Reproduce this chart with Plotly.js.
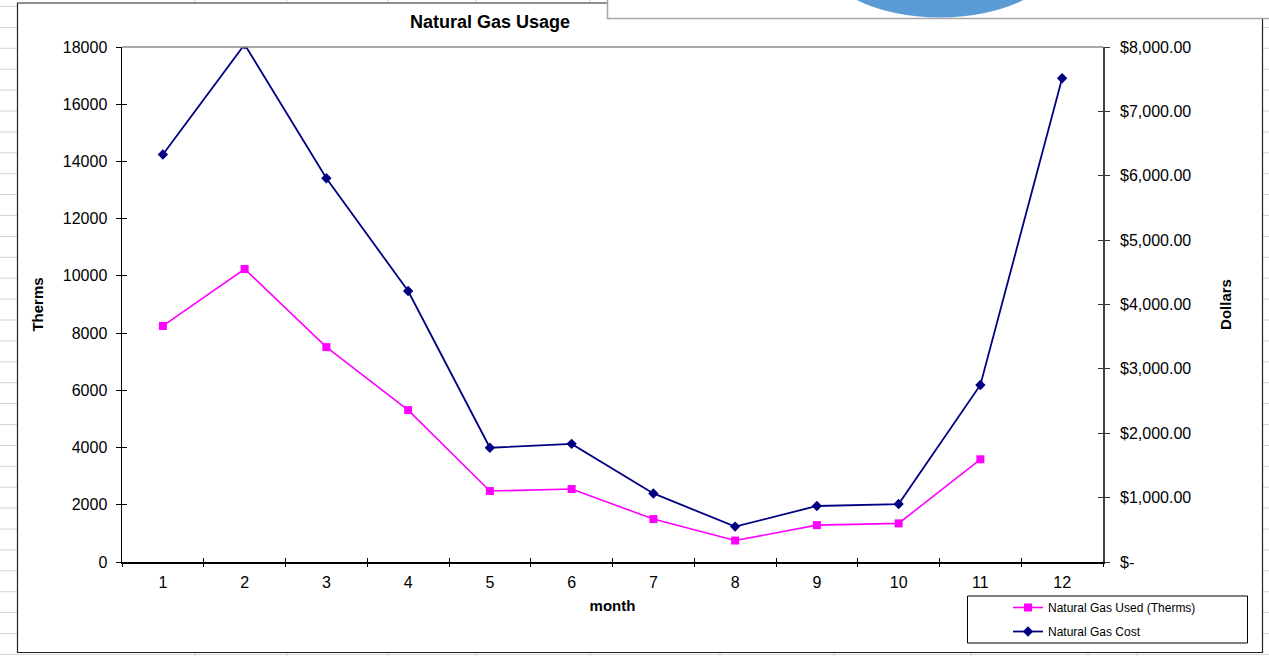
<!DOCTYPE html>
<html>
<head>
<meta charset="utf-8">
<script src="https://cdn.plot.ly/plotly-3.0.1.min.js"></script>
<style>
  html, body { margin: 0; padding: 0; background: #ffffff; overflow: hidden; }
  #chart { width: 1269px; height: 656px; }
</style>
</head>
<body>
<div id="chart"></div>
<script>
// ---- data ----
const months = [1, 2, 3, 4, 5, 6, 7, 8, 9, 10, 11, 12];
const monthLabels = ["1", "2", "3", "4", "5", "6", "7", "8", "9", "10", "11", "12"];
const thermsUsed = [8250, 10240, 7510, 5310, 2480, 2550, 1500, 750, 1290, 1350, 3590, null];
const gasCost = [6330, 8040, 5960, 4210, 1775, 1835, 1065, 550, 870, 900, 2750, 7515];
const thermTicks = [0, 2000, 4000, 6000, 8000, 10000, 12000, 14000, 16000, 18000];
const thermTickText = ["0", "2000", "4000", "6000", "8000", "10000", "12000", "14000", "16000", "18000"];
const dollarTickVals = [0, 1000, 2000, 3000, 4000, 5000, 6000, 7000, 8000];
const dollarTickText = ["$-", "$1,000.00", "$2,000.00", "$3,000.00", "$4,000.00",
                        "$5,000.00", "$6,000.00", "$7,000.00", "$8,000.00"];
const seriesNames = ["Natural Gas Used (Therms)", "Natural Gas Cost"];

// ---- geometry helpers (pixel -> paper) ----
const W = 1269, H = 656;
const PL = 122, PR = 1103, PT = 47, PB = 562;
const PW = PR - PL, PH = PB - PT;
const px = p => (p - PL) / PW;
const py = p => (PB - p) / PH;
const FONT = "Arial, 'Liberation Sans', sans-serif";

const catBounds = months.map(m => m - 0.5).concat([months[months.length - 1] + 0.5]);

const traces = [
  {
    x: months, y: thermsUsed, name: seriesNames[0], type: "scatter", mode: "lines+markers",
    line: { color: "#FF00FF", width: 1.6 },
    marker: { symbol: "square", size: 8, color: "#FF00FF" },
    xaxis: "x", yaxis: "y", legendgroup: "a", connectgaps: false
  },
  {
    x: months, y: gasCost, name: seriesNames[1], type: "scatter", mode: "lines+markers",
    line: { color: "#000080", width: 1.8 },
    marker: { symbol: "diamond", size: 8, color: "#000080" },
    xaxis: "x", yaxis: "y2", legendgroup: "b"
  },
  // empty helper traces so that the overlay tick axes are drawn
  { x: [], y: [], xaxis: "x2", yaxis: "y", showlegend: false, hoverinfo: "skip" },
  { x: [], y: [], xaxis: "x3", yaxis: "y", showlegend: false, hoverinfo: "skip" },
  { x: [], y: [], xaxis: "x", yaxis: "y3", showlegend: false, hoverinfo: "skip" },
  { x: [], y: [], xaxis: "x", yaxis: "y4", showlegend: false, hoverinfo: "skip" }
];

// spreadsheet grid behind the chart object
const shapes = [];
for (let k = -1; k < 33; k++) {
  const yy = 6.5 + k * 20.9;
  shapes.push({ type: "line", xref: "paper", yref: "paper", layer: "below",
    x0: px(0), x1: px(W), y0: py(yy), y1: py(yy), line: { color: "#d4d4d4", width: 1 } });
}
[195, 287, 388, 476, 590, 720, 834, 971, 1088, 1137].forEach(xx => {
  shapes.push({ type: "line", xref: "paper", yref: "paper", layer: "below",
    x0: px(xx), x1: px(xx), y0: py(0), y1: py(H), line: { color: "#d4d4d4", width: 1 } });
});
// chart object
shapes.push({ type: "rect", xref: "paper", yref: "paper", layer: "below",
  x0: px(17.5), x1: px(1262.5), y0: py(3), y1: py(652.5),
  fillcolor: "#ffffff", line: { color: "#222222", width: 1.2 } });
// plot area top border (grey)
shapes.push({ type: "line", xref: "paper", yref: "paper", layer: "above",
  x0: 0, x1: 1, y0: 1, y1: 1, line: { color: "#8c8c8c", width: 1.5 } });
// legend frame
shapes.push({ type: "rect", xref: "paper", yref: "paper", layer: "above",
  x0: px(967.5), x1: px(1247.5), y0: py(596), y1: py(643),
  fillcolor: "rgba(0,0,0,0)", line: { color: "#000000", width: 1 } });
// overlapping object at the top right (white frame + blue ellipse)
shapes.push({ type: "rect", xref: "paper", yref: "paper", layer: "above",
  x0: px(607.5), x1: px(1300), y0: py(-5), y1: py(18.5),
  fillcolor: "#ffffff", line: { color: "#a6a6a6", width: 1.5 } });
shapes.push({ type: "circle", xref: "paper", yref: "paper", layer: "above",
  x0: px(820), x1: px(1060), y0: py(-107), y1: py(17.5),
  fillcolor: "#5B9BD5", line: { width: 0 } });

const layout = {
  width: W, height: H,
  margin: { l: PL, r: W - PR, t: PT, b: H - PB, pad: 0, autoexpand: false },
  paper_bgcolor: "#ffffff",
  plot_bgcolor: "rgba(0,0,0,0)",
  font: { family: FONT, color: "#000000", size: 16 },
  showlegend: true,
  title: {
    text: "<b>Natural Gas Usage</b>",
    font: { family: FONT, size: 18, color: "#000000" },
    xref: "container", yref: "container",
    x: 490 / W, xanchor: "center", y: 1 - 22 / H, yanchor: "middle"
  },
  xaxis: {
    range: [0.5, 12.5], tickmode: "array", tickvals: months, ticktext: monthLabels,
    ticks: "", showgrid: false, zeroline: false,
    showline: true, linecolor: "#000000", linewidth: 1.5,
    tickfont: { family: FONT, size: 16, color: "#000000" },
    ticklabelstandoff: 5,
    title: { text: "<b>month</b>", font: { family: FONT, size: 15, color: "#000000" }, standoff: 11 },
    fixedrange: true
  },
  xaxis2: {
    overlaying: "x", range: [0.5, 12.5], tickmode: "array", tickvals: catBounds,
    ticks: "outside", ticklen: 4, tickwidth: 1, tickcolor: "#000000",
    showticklabels: false, showline: false, showgrid: false, zeroline: false
  },
  xaxis3: {
    overlaying: "x", range: [0.5, 12.5], tickmode: "array", tickvals: catBounds,
    ticks: "inside", ticklen: 4, tickwidth: 1, tickcolor: "#000000",
    showticklabels: false, showline: false, showgrid: false, zeroline: false
  },
  yaxis: {
    range: [0, 18000], tickmode: "array", tickvals: thermTicks, ticktext: thermTickText,
    ticks: "outside", ticklen: 5, tickwidth: 1, tickcolor: "#000000",
    showgrid: false, zeroline: false,
    showline: true, linecolor: "#000000", linewidth: 1.5,
    tickfont: { family: FONT, size: 16, color: "#000000" },
    ticklabelstandoff: 5,
    title: { text: "<b>Therms</b>", font: { family: FONT, size: 15, color: "#000000" }, standoff: 15 },
    fixedrange: true
  },
  yaxis3: {
    overlaying: "y", range: [0, 18000], tickmode: "array", tickvals: thermTicks,
    ticks: "inside", ticklen: 5, tickwidth: 1, tickcolor: "#000000",
    showticklabels: false, showline: false, showgrid: false, zeroline: false
  },
  yaxis2: {
    overlaying: "y", side: "right", range: [0, 8000], tickmode: "array",
    tickvals: dollarTickVals, ticktext: dollarTickText,
    ticks: "outside", ticklen: 5, tickwidth: 1, tickcolor: "#333333",
    showgrid: false, zeroline: false,
    showline: true, linecolor: "#404040", linewidth: 1.8,
    tickfont: { family: FONT, size: 16, color: "#000000" },
    ticklabelstandoff: 7,
    title: { text: "<b>Dollars</b>", font: { family: FONT, size: 15, color: "#000000" }, standoff: 30 },
    fixedrange: true
  },
  yaxis4: {
    overlaying: "y", side: "right", range: [0, 8000], tickmode: "array", tickvals: dollarTickVals,
    ticks: "inside", ticklen: 5, tickwidth: 1, tickcolor: "#333333",
    showticklabels: false, showline: false, showgrid: false, zeroline: false
  },
  legend: {
    x: px(1008), xanchor: "left", y: py(593), yanchor: "top",
    bgcolor: "rgba(0,0,0,0)", borderwidth: 0,
    font: { family: FONT, size: 12, color: "#000000" },
    traceorder: "grouped", tracegroupgap: 5
  },
  shapes: shapes
};

Plotly.newPlot("chart", traces, layout, { displayModeBar: false, staticPlot: true });
</script>
</body>
</html>
